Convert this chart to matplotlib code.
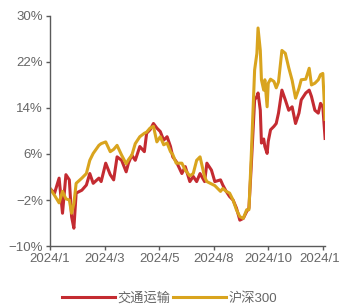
import matplotlib
matplotlib.use("Agg")
import matplotlib.pyplot as plt

plt.rcParams['font.family'] = ['Liberation Sans', 'Noto Sans CJK SC', 'DejaVu Sans']

# trading-day index (0 = start of 2024/1)
days = [0, 4, 8, 11, 14, 17, 19, 21, 23, 28, 32, 35, 38, 43, 45, 49, 53, 56, 59, 63,
        67, 69, 72, 75, 79, 83, 85, 88, 91, 94, 97, 100, 103, 106, 108, 111, 116, 119,
        123, 126, 129, 132, 136, 138, 142, 145, 150, 152, 155, 158, 161, 164, 167, 170,
        173, 175, 177, 180, 182, 183, 185, 186, 188, 189, 191, 192, 194, 197, 199, 201,
        204, 207, 210, 213, 216, 219, 221, 225, 228, 230, 233, 236, 238, 240, 242]

# 交通运输 cumulative return (%)
transport = [0, -0.8, 1.8, -4.3, 2.4, 1.5, -4.9, -6.9, -0.8, -0.3, 0.6, 2.6, 0.9, 1.8, 1.2,
             4.4, 2.4, 1.5, 5.5, 4.9, 2.9, 4.4, 5.8, 4.9, 7.3, 6.4, 9.6, 10.2, 11.3, 10.5,
             9.9, 8.4, 9.0, 7.3, 5.5, 4.7, 2.6, 3.8, 1.2, 2.1, 1.2, 2.6, 1.2, 4.4, 3.2, 1.2,
             1.5, 0.6, -0.5, -1.4, -2.0, -3.4, -5.5, -5.2, -4.0, -3.4, 3.8, 15.4, 16.0, 16.6,
             13.6, 7.9, 8.6, 7.3, 6.1, 8.2, 10.2, 10.8, 11.3, 13.1, 17.1, 15.4, 13.6, 14.2,
             11.3, 13.1, 15.4, 16.6, 17.1, 16.0, 13.6, 13.1, 14.8, 14.2, 8.7]

# 沪深300 cumulative return (%)
hs300 = [0, -1.2, -2.5, -0.5, -1.8, -2.0, -4.3, -2.6, 0.9, 1.8, 2.6, 4.9, 6.1, 7.5, 7.8,
         8.1, 6.4, 6.8, 7.5, 5.8, 4.3, 5.0, 5.8, 7.8, 9.0, 9.6, 9.8, 10.5, 10.8, 8.1, 9.0,
         7.6, 7.9, 6.4, 5.9, 4.4, 4.4, 3.2, 2.2, 2.6, 4.9, 5.5, 2.0, 1.2, 0.8, 0.5, -0.5,
         0, -0.5, -0.8, -2.0, -3.7, -4.9, -5.2, -3.7, -3.7, 5.5, 20.6, 23.5, 27.9, 24.0,
         18.9, 17.1, 18.9, 14.2, 18.3, 19.0, 18.6, 17.5, 18.5, 24.0, 23.5, 21.0, 18.8, 15.7,
         17.4, 18.9, 19.0, 20.9, 18.0, 18.3, 18.9, 19.8, 20.0, 12.0]

tick_days = [0, 48, 96, 144, 192, 240]
tick_labels = ['2024/1', '2024/3', '2024/5', '2024/8', '2024/10', '2024/12']
y_ticks = [-10, -2, 6, 14, 22, 30]

red = '#C42B31'
gold = '#D9A41E'
grey = '#5a5a5a'

fig = plt.figure(figsize=(3.39, 3.06), dpi=100)
ax = fig.add_axes([0.1475, 0.196, 0.8115, 0.752])

ax.plot(days, transport, color=red, lw=2.2, label='交通运输', solid_joinstyle='round')
ax.plot(days, hs300, color=gold, lw=2.2, label='沪深300', solid_joinstyle='round')

ax.set_xlim(0, 242)
ax.set_ylim(-10, 30)
ax.set_xticks(tick_days)
ax.set_xticklabels(tick_labels)
ax.set_yticks(y_ticks)
ax.set_yticklabels([f'{v}%'.replace('-', '\u2212') for v in y_ticks])

for side in ['top', 'right']:
    ax.spines[side].set_visible(False)
for side in ['left', 'bottom']:
    ax.spines[side].set_color(grey)
    ax.spines[side].set_linewidth(1.0)
ax.tick_params(colors=grey, labelcolor='#666666', labelsize=9.5, length=3, width=1.0, pad=2)

fig.legend(loc='center', bbox_to_anchor=(0.5, 0.025), ncol=2, frameon=False,
           fontsize=9.5, handlelength=4.0, handletextpad=0.2, columnspacing=0.2,
           labelcolor='#666666')

fig.savefig('out.png', dpi=100)
